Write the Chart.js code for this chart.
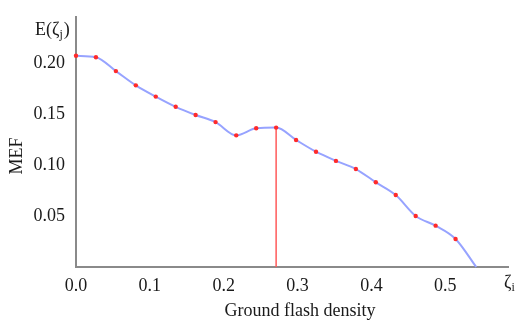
<!DOCTYPE html>
<html>
<head>
<meta charset="utf-8">
<script src="https://cdn.jsdelivr.net/npm/chart.js@4"></script>
<style>
  html, body { margin: 0; padding: 0; background: #fff; }
  #wrap { width: 530px; height: 324px; }
</style>
</head>
<body>
<div id="wrap"><canvas id="mefChart" width="530" height="324"></canvas></div>
<script>
// Ground flash density (zeta_i) sample points
const density = [0, 0.027, 0.054, 0.081, 0.108, 0.135, 0.162, 0.189, 0.217, 0.244, 0.271,
                 0.298, 0.325, 0.352, 0.379, 0.406, 0.433, 0.46, 0.487, 0.514, 0.542];
// MEF values E(zeta_j)
const mef = [0.207, 0.2056, 0.192, 0.178, 0.167, 0.157, 0.149, 0.142, 0.129, 0.136, 0.1366,
             0.1245, 0.113, 0.104, 0.096, 0.083, 0.0705, 0.05, 0.0405, 0.0275, 0];
// vertical marker at the chosen density
const markerX = [0.271, 0.271];
const markerY = [0, 0.1366];

const xTicks = [0, 0.1, 0.2, 0.3, 0.4, 0.5];
const yTicks = [0.05, 0.10, 0.15, 0.20];

const serif = '"Liberation Serif", "DejaVu Serif", serif';

// extra labels drawn on top (axis names)
const labelPlugin = {
    id: 'axisLabels',
    afterDraw(chart) {
        const ctx = chart.ctx;
        ctx.save();
        ctx.fillStyle = '#1a1a1a';
        ctx.font = '18px ' + serif;
        ctx.textBaseline = 'middle';

        // x title
        ctx.textAlign = 'center';
        ctx.fillText('Ground flash density', 300, 311);

        // y title at top: E(ζj)
        ctx.textAlign = 'left';
        ctx.fillText('E(ζ', 35, 30);
        let w = ctx.measureText('E(ζ').width;
        ctx.font = '12px ' + serif;
        ctx.fillText('j', 35 + w, 35);
        let w2 = ctx.measureText('j').width;
        ctx.font = '18px ' + serif;
        ctx.fillText(')', 35 + w + w2 + 1, 30);

        // x end label: ζi
        ctx.fillText('ζ', 504, 283);
        w = ctx.measureText('ζ').width;
        ctx.font = '12px ' + serif;
        ctx.fillText('i', 504 + w, 288);

        // rotated MEF
        ctx.font = '18px ' + serif;
        ctx.translate(17, 156);
        ctx.rotate(-Math.PI / 2);
        ctx.textAlign = 'center';
        ctx.fillText('MEF', 0, 0);
        ctx.restore();
    }
};

const ctx = document.getElementById('mefChart').getContext('2d');
new Chart(ctx, {
    type: 'scatter',
    data: {
        datasets: [
            {
                label: 'MEF',
                data: density.map((x, i) => ({ x: x, y: mef[i] })),
                showLine: true,
                borderColor: '#97a3ff',
                borderWidth: 2,
                cubicInterpolationMode: 'monotone',
                pointRadius: mef.map((v, i) => i === mef.length - 1 ? 0 : 2.2),
                pointBackgroundColor: '#ff2a2a',
                pointBorderWidth: 0,
                clip: false
            },
            {
                label: 'marker',
                data: markerX.map((x, i) => ({ x: x, y: markerY[i] })),
                showLine: true,
                borderColor: '#ff5a5a',
                borderWidth: 1.5,
                pointRadius: 0
            }
        ]
    },
    options: {
        responsive: false,
        animation: false,
        events: [],
        layout: { padding: { left: 0, right: 22, top: 17, bottom: 0 } },
        plugins: { legend: { display: false }, tooltip: { enabled: false } },
        scales: {
            x: {
                type: 'linear',
                min: 0,
                max: 0.585,
                grid: { display: false },
                border: { display: true, color: '#8a8a8a', width: 2 },
                afterBuildTicks: (s) => { s.ticks = xTicks.map(v => ({ value: v })); },
                afterFit: (s) => { s.height = 57; },
                ticks: {
                    color: '#1a1a1a',
                    font: { family: serif, size: 18 },
                    padding: 0,
                    maxRotation: 0,
                    callback: (v) => Number(v).toFixed(1)
                }
            },
            y: {
                type: 'linear',
                min: 0,
                max: 0.245,
                grid: { display: false },
                border: { display: true, color: '#8a8a8a', width: 2 },
                afterBuildTicks: (s) => { s.ticks = yTicks.map(v => ({ value: v })); },
                afterFit: (s) => { s.width = 76; },
                ticks: {
                    color: '#1a1a1a',
                    font: { family: serif, size: 18 },
                    padding: 3,
                    callback: (v) => Number(v).toFixed(2)
                }
            }
        }
    },
    plugins: [labelPlugin]
});
</script>
</body>
</html>
